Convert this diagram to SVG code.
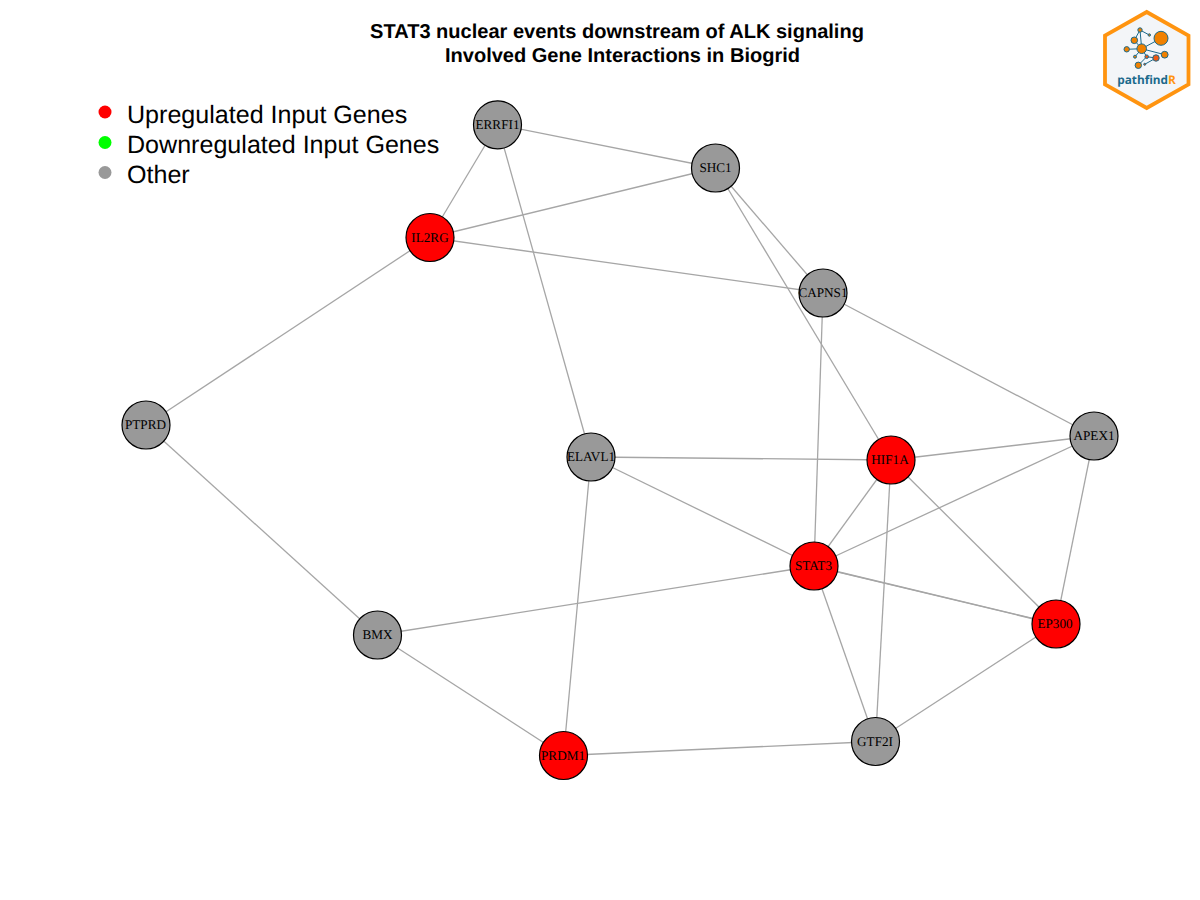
<svg xmlns="http://www.w3.org/2000/svg" width="1200" height="900" viewBox="0 0 1200 900" text-rendering="geometricPrecision">
<style>
.e{stroke:#a6a6a6;stroke-width:1.3;fill:none}
.n{stroke:#000;stroke-width:1.2}
.up{fill:#ff0000}
.ot{fill:#999999}
.nl{font-family:"Liberation Serif",serif;font-size:13.200px;text-anchor:middle;dominant-baseline:central;fill:#000}
.t{font-family:"Liberation Sans",sans-serif;font-size:20.050px;font-weight:bold;text-anchor:middle;fill:#000}
.lg{font-family:"Liberation Sans",sans-serif;font-size:25.080px;fill:#000}
.ll{stroke:#1b6a8c;stroke-width:1}
.ln{fill:#f08000;stroke:#1b6a8c;stroke-width:1}
</style>
<rect width="1200" height="900" fill="#fff"/>
<g id="title">
<text class="t" x="617" y="38">STAT3 nuclear events downstream of ALK signaling</text>
<text class="t" x="622.500" y="62">Involved Gene Interactions in Biogrid</text>
</g>
<g id="legend">
<circle cx="105" cy="112" r="6.500" fill="#ff0000"/>
<circle cx="105" cy="142.500" r="6.500" fill="#00ff00"/>
<circle cx="105" cy="172.500" r="6.500" fill="#999999"/>
<text class="lg" x="127" y="123">Upregulated Input Genes</text>
<text class="lg" x="127" y="153">Downregulated Input Genes</text>
<text class="lg" x="127" y="183">Other</text>
</g>
<g id="connectors">
<line class="e" x1="497.500" y1="124.500" x2="715.500" y2="168"/>
<line class="e" x1="497.500" y1="124.500" x2="430" y2="237.500"/>
<line class="e" x1="497.500" y1="124.500" x2="591" y2="457"/>
<line class="e" x1="715.500" y1="168" x2="430" y2="237.500"/>
<line class="e" x1="715.500" y1="168" x2="823" y2="293"/>
<line class="e" x1="715.500" y1="168" x2="891" y2="460"/>
<line class="e" x1="430" y1="237.500" x2="823" y2="293"/>
<line class="e" x1="430" y1="237.500" x2="146" y2="425"/>
<line class="e" x1="823" y1="293" x2="1094" y2="436"/>
<line class="e" x1="823" y1="293" x2="814" y2="566"/>
<line class="e" x1="146" y1="425" x2="377.500" y2="635"/>
<line class="e" x1="591" y1="457" x2="891" y2="460"/>
<line class="e" x1="591" y1="457" x2="814" y2="566"/>
<line class="e" x1="591" y1="457" x2="563.500" y2="755.500"/>
<line class="e" x1="891" y1="460" x2="1094" y2="436"/>
<line class="e" x1="891" y1="460" x2="814" y2="566"/>
<line class="e" x1="891" y1="460" x2="1056" y2="624"/>
<line class="e" x1="891" y1="460" x2="875.500" y2="741.500"/>
<line class="e" x1="1094" y1="436" x2="814" y2="566"/>
<line class="e" x1="1094" y1="436" x2="1056" y2="624"/>
<line class="e" x1="814" y1="566" x2="1056" y2="624"/>
<line class="e" x1="814" y1="566.300" x2="1056" y2="624.300"/>
<line class="e" x1="814" y1="566" x2="377.500" y2="635"/>
<line class="e" x1="814" y1="566" x2="875.500" y2="741.500"/>
<line class="e" x1="1056" y1="624" x2="875.500" y2="741.500"/>
<line class="e" x1="377.500" y1="635" x2="563.500" y2="755.500"/>
<line class="e" x1="563.500" y1="755.500" x2="875.500" y2="741.500"/>
</g>
<g id="node-ERRFI1"><circle class="n ot" cx="497.500" cy="124.800" r="24"/><text class="nl" x="497.500" y="124">ERRFI1</text></g>
<g id="node-SHC1"><circle class="n ot" cx="715.500" cy="168" r="24"/><text class="nl" x="715.500" y="167.500">SHC1</text></g>
<g id="node-IL2RG"><circle class="n up" cx="430" cy="237.500" r="24"/><text class="nl" x="430" y="237">IL2RG</text></g>
<g id="node-CAPNS1"><circle class="n ot" cx="823" cy="293" r="24"/><text class="nl" x="823" y="292.500">CAPNS1</text></g>
<g id="node-PTPRD"><circle class="n ot" cx="146" cy="425" r="24"/><text class="nl" x="145.500" y="424.500">PTPRD</text></g>
<g id="node-ELAVL1"><circle class="n ot" cx="591" cy="457" r="24"/><text class="nl" x="591" y="456.500">ELAVL1</text></g>
<g id="node-HIF1A"><circle class="n up" cx="891" cy="460" r="24"/><text class="nl" x="890" y="459.500">HIF1A</text></g>
<g id="node-APEX1"><circle class="n ot" cx="1094" cy="436" r="24"/><text class="nl" x="1094" y="435.500">APEX1</text></g>
<g id="node-STAT3"><circle class="n up" cx="814" cy="566" r="24"/><text class="nl" x="813.500" y="565.500">STAT3</text></g>
<g id="node-EP300"><circle class="n up" cx="1056" cy="624" r="24"/><text class="nl" x="1055" y="623.500">EP300</text></g>
<g id="node-BMX"><circle class="n ot" cx="377.500" cy="635" r="24"/><text class="nl" x="377.500" y="634.500">BMX</text></g>
<g id="node-PRDM1"><circle class="n up" cx="563.500" cy="755.500" r="24"/><text class="nl" x="563" y="755">PRDM1</text></g>
<g id="node-GTF2I"><circle class="n ot" cx="875.500" cy="741.500" r="24"/><text class="nl" x="875" y="741">GTF2I</text></g>
<g id="logo">
<polygon points="1146.700,12 1188.500,35.500 1188.500,84.500 1146.700,108 1105,84.500 1105,35.500" fill="#f3f5f8" stroke="#ff9410" stroke-width="3.800"/>
<g>
<line class="ll" x1="1141.700" y1="48.700" x2="1161" y2="38.300"/>
<line class="ll" x1="1141.700" y1="48.700" x2="1134.300" y2="40.300"/>
<line class="ll" x1="1134.300" y1="40.300" x2="1140" y2="30"/>
<line class="ll" x1="1140" y1="30" x2="1149.300" y2="35"/>
<line class="ll" x1="1140" y1="30" x2="1141.700" y2="48.700"/>
<line class="ll" x1="1141.700" y1="48.700" x2="1126.700" y2="49.300"/>
<line class="ll" x1="1141.700" y1="48.700" x2="1135" y2="56.700"/>
<line class="ll" x1="1141.700" y1="48.700" x2="1164.700" y2="54.700"/>
<line class="ll" x1="1141.700" y1="48.700" x2="1146.700" y2="56.700"/>
<line class="ll" x1="1146.700" y1="56.700" x2="1138.300" y2="65.300"/>
<line class="ll" x1="1146.700" y1="56.700" x2="1156" y2="58"/>
<line class="ll" x1="1156" y1="58" x2="1144.700" y2="64.300"/>
<circle class="ln" cx="1161" cy="38.300" r="7"/>
<circle class="ln" cx="1141.700" cy="48.700" r="4.800"/>
<circle class="ln" cx="1134.300" cy="40.300" r="3.300"/>
<circle class="ln" cx="1140" cy="30" r="2.200"/>
<circle class="ln" cx="1149.300" cy="35" r="1.200"/>
<circle class="ln" cx="1126.700" cy="49.300" r="2.700"/>
<circle class="ln" cx="1135" cy="56.700" r="1.500"/>
<circle class="ln" cx="1164.700" cy="54.700" r="3.400"/>
<circle class="ln" cx="1156" cy="58" r="3.200" style="fill:#f05a14"/>
<circle class="ln" cx="1146.700" cy="56.700" r="1.800" style="fill:#f05a14"/>
<circle class="ln" cx="1138.300" cy="65.300" r="3.200"/>
<circle class="ln" cx="1144.700" cy="64.300" r="1" style="fill:#f05a14"/>
</g>
<text x="1146.500" y="84" font-family="'Open Sans',sans-serif" font-size="11.800" font-weight="bold" text-anchor="middle" fill="#1b6a8c">pathfind<tspan fill="#ff9410">R</tspan></text>
</g>
</svg>
